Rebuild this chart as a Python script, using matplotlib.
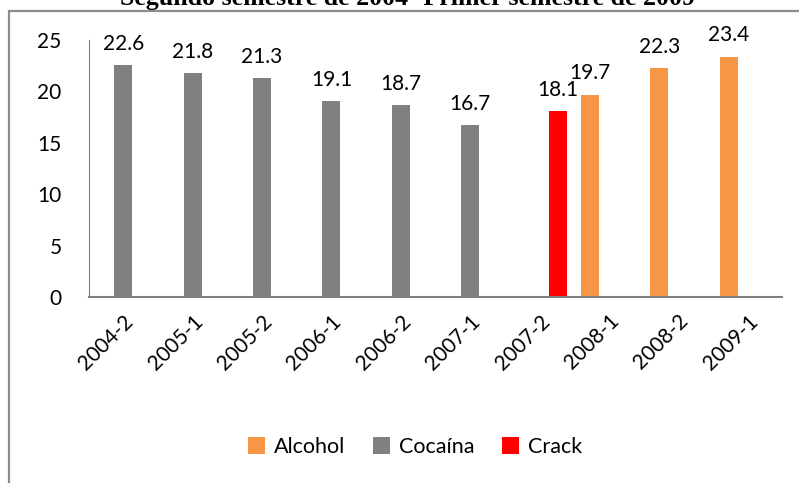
import matplotlib
matplotlib.use("Agg")
import matplotlib.pyplot as plt
from matplotlib.patches import Rectangle
import numpy as np

periods = ["2004-2", "2005-1", "2005-2", "2006-1", "2006-2",
           "2007-1", "2007-2", "2008-1", "2008-2", "2009-1"]
alcohol = [None, None, None, None, None, None, None, 19.7, 22.3, 23.4]
cocaina = [22.6, 21.8, 21.3, 19.1, 18.7, 16.7, None, None, None, None]
crack = [None, None, None, None, None, None, 18.1, None, None, None]

series = [("Alcohol", alcohol, "#F79646"),
          ("Cocaína", cocaina, "#808080"),
          ("Crack", crack, "#FF0000")]

plt.rcParams['font.family'] = ['Lato', 'DejaVu Sans']
fs = 15

fig = plt.figure(figsize=(7.99, 4.83), dpi=100)
ax = fig.add_axes([0.111, 0.385, 0.868, 0.532])

# outer chart frame (left and top edges visible)
fig.patches.append(Rectangle((9 / 799, -0.05), 1.1, 1 - 11 / 483 + 0.05,
                             transform=fig.transFigure, fill=False,
                             edgecolor="#8c8c8c", linewidth=1.6))

# title sits mostly above the image edge, as in the original
fig.text(408 / 799, 1 - 4.5 / 483, "Segundo semestre de 2004- Primer semestre de 2009",
         family="Liberation Serif", fontweight="bold", fontsize=18.6,
         ha="center", va="baseline")

x = np.arange(len(periods))
w = 0.26
offsets = [-0.27, 0.0, 0.27]
for (name, vals, col), off in zip(series, offsets):
    xs = [xi + off for xi, v in zip(x, vals) if v is not None]
    hs = [v for v in vals if v is not None]
    bars = ax.bar(xs, hs, width=w, color=col, label=name)
    ax.bar_label(bars, labels=[f"{v:.1f}" for v in hs], padding=8,
                 fontsize=fs)

ax.set_xlim(-0.5, len(periods) - 0.5)
ax.set_ylim(0, 25)
ax.set_yticks([0, 5, 10, 15, 20, 25])
ax.set_xticks(x)
ax.set_xticklabels(periods, rotation=45, ha="right", rotation_mode="anchor")
ax.tick_params(axis="both", length=0, labelsize=fs)
ax.tick_params(axis="y", pad=19.5)
ax.tick_params(axis="x", pad=10)
for s in ["top", "right"]:
    ax.spines[s].set_visible(False)
ax.spines["bottom"].set_color("#808080")
ax.spines["bottom"].set_linewidth(1.5)
ax.spines["left"].set_color("#808080")
ax.spines["left"].set_linewidth(0.8)

ax.legend(loc="center", bbox_to_anchor=(415 / 799, 1 - 447 / 483),
          bbox_transform=fig.transFigure, ncol=3, frameon=False,
          fontsize=15.5, handlelength=0.8, handleheight=0.8,
          handletextpad=0.4, columnspacing=1.3)

fig.savefig("out.png", dpi=100)
